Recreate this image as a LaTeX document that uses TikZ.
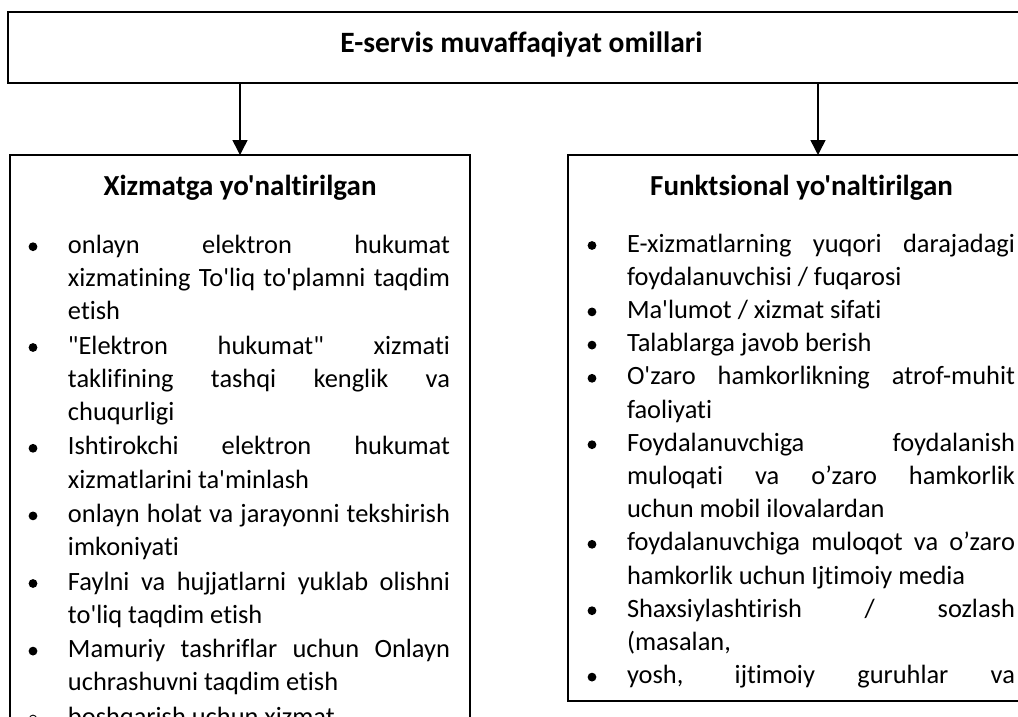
\documentclass[tikz,border=0pt]{standalone}
\usepackage{fontspec}
\newfontfamily\carlito{Carlito}[Ligatures=CommonOff]
\usepackage{tikz}
\usetikzlibrary{arrows.meta}

\newlength\bandgap
\newcommand{\nuqta}{\tikz[baseline=-6.5pt]\fill (0,0) circle (4.4pt);}
\newcommand{\halqa}{\tikz[baseline=-6.5pt]\draw[line width=0.9pt] (0,0) circle (3.6pt);}
\newcommand{\band}[2][\nuqta]{\par\vspace{\bandgap}\noindent\llap{\makebox[35pt][l]{\makebox[0pt]{#1}}}#2}
\newcommand{\sarlavha}[1]{\hyphenpenalty=10000\relax\exhyphenpenalty=10000\relax
    \noindent\makebox[\hsize]{\rule{0pt}{40pt}\fontsize{29}{34}\selectfont\bfseries #1}\par\vspace{23.8pt}%
    \spaceskip=0.226em plus 0.6em minus 0.1em\relax}

\begin{document}
\begin{tikzpicture}[x=1pt,y=-1pt,
        box/.style = {draw, line width=1.5pt, inner sep=0pt, outer sep=0pt},
        listbox/.style = {box, anchor=north west, align=justify,
            font=\carlito\fontsize{26.4}{33.2}\selectfont},
        conn/.style = {line width=1.5pt, -{Triangle[length=15pt,width=15pt]}}]
    \useasboundingbox (0,0) rectangle (1018,716);
    \clip (0,0) rectangle (1018,716);
    \node[box, minimum width=1027pt, minimum height=71pt, text height=18pt, text depth=9pt,
          font=\carlito\fontsize{29.5}{34}\selectfont\bfseries] (top) at (521.5,47.5)
          {E-servis muvaffaqiyat omillari};
    \node[listbox, text width=460pt] (lbox) at (10,155) {%
        \sarlavha{Xizmatga yo'naltirilgan}%
        \leftskip=58pt \rightskip=20pt \setlength\bandgap{1.2pt}%
        \band{onlayn elektron hukumat\linebreak xizmatining To'liq to'plamni taqdim\linebreak etish}
        \band{"Elektron hukumat" xizmati\linebreak taklifining tashqi kenglik va\linebreak chuqurligi}
        \band{Ishtirokchi elektron hukumat\linebreak xizmatlarini ta'minlash}
        \band{onlayn holat va jarayonni tekshirish\linebreak imkoniyati}
        \band{Faylni va hujjatlarni yuklab olishni\linebreak to'liq taqdim etish}
        \band{Mamuriy tashriflar uchun Onlayn\linebreak uchrashuvni taqdim etish}
        \band[\halqa]{boshqarish uchun xizmat\strut}
        \par\kern20pt};
    \node[listbox, text width=467pt] (rbox) at (568,155) {%
        \sarlavha{Funktsional yo'naltirilgan}%
        \leftskip=59pt \rightskip=20pt \setlength\bandgap{0pt}%
        \band{E-xizmatlarning yuqori darajadagi\linebreak foydalanuvchisi / fuqarosi}
        \band{Ma'lumot / xizmat sifati}
        \band{Talablarga javob berish}
        \band{O'zaro hamkorlikning atrof-muhit\linebreak faoliyati}
        \band{Foydalanuvchiga foydalanish\linebreak muloqati va o’zaro hamkorlik\linebreak uchun mobil ilovalardan}
        \band{foydalanuvchiga muloqot va o’zaro\linebreak hamkorlik uchun Ijtimoiy media}
        \band{Shaxsiylashtirish / sozlash\linebreak (masalan,}
        \band{yosh, ijtimoiy guruhlar va\parfillskip=0pt\strut}
        \par\kern7.4pt};
    \coordinate (rtip) at ([xshift=16.5pt]rbox.north);
    \draw[conn] (top.south -| lbox.north) -- (lbox.north);
    \draw[conn] (top.south -| rtip) -- (rtip);
\end{tikzpicture}
\end{document}
